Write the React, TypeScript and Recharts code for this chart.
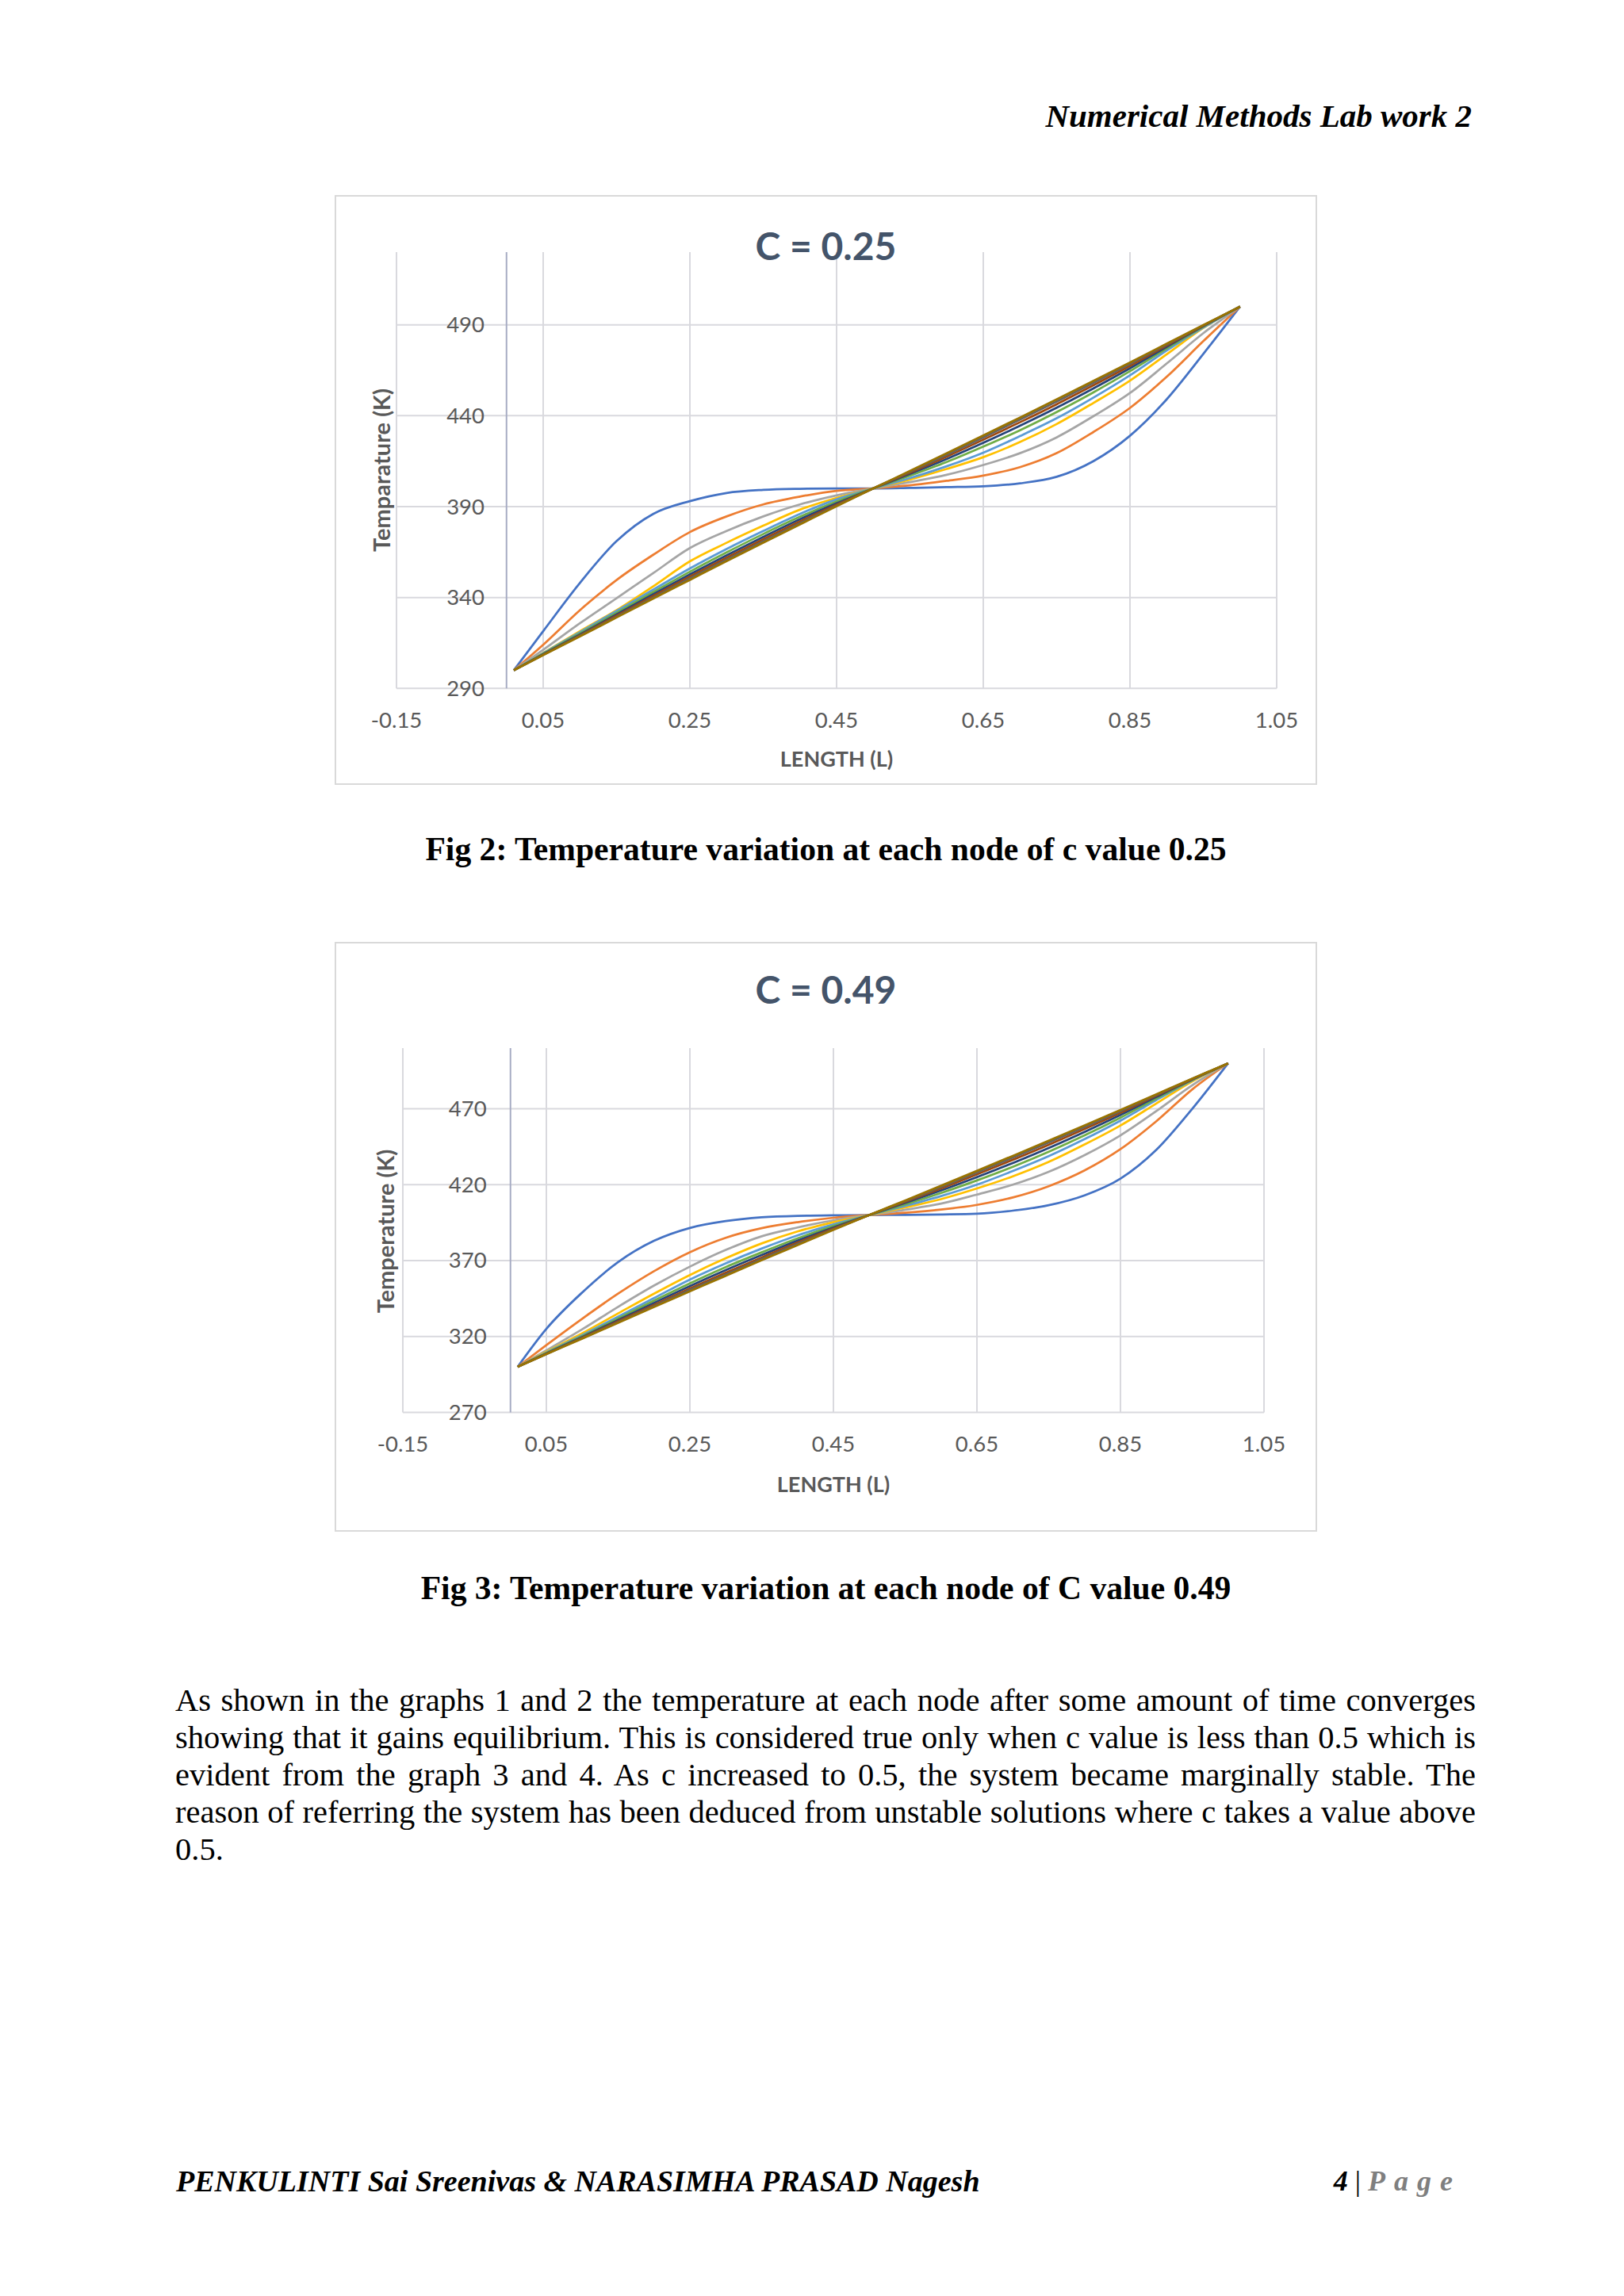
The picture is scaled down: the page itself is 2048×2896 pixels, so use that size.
import React from "react";
import { LineChart, Line, XAxis, YAxis, CartesianGrid, ReferenceLine } from "recharts";

// nodes along the bar (LENGTH) shared by both figures
const lengthNodes = [0.01, 0.05, 0.1, 0.15, 0.2, 0.25, 0.3, 0.35, 0.4, 0.45, 0.5, 0.55, 0.6, 0.65, 0.7, 0.75, 0.8, 0.85, 0.9, 0.95, 1.0];
const lengthTicks = [-0.15, 0.05, 0.25, 0.45, 0.65, 0.85, 1.05];
const tempTicks25 = [290, 340, 390, 440, 490];
const tempTicks49 = [270, 320, 370, 420, 470];

const seriesColors = ["#4472C4", "#ED7D31", "#A5A5A5", "#FFC000", "#5B9BD5", "#70AD47", "#264478", "#9E480E", "#636363", "#997300"];

// C = 0.25, one array per time step
const c25Step1 = [300, 321.5, 348, 371, 386, 393, 397.5, 399.2, 399.8, 400, 400, 400.3, 400.7, 401.2, 402.8, 406.4, 415, 429, 449, 474, 500];
const c25Step2 = [300, 314, 333, 349.6, 363.5, 376, 384.6, 391.2, 395.5, 398.7, 400, 401.7, 404.2, 407.1, 411.7, 419.4, 431, 444.3, 461.4, 481, 500];
const c25Step3 = [300, 311.2, 325.8, 339.6, 353.4, 367.2, 376.6, 384.6, 391.2, 396.2, 400, 403.5, 407.5, 412.9, 419.4, 428.1, 439.7, 452.5, 468.7, 485.4, 500];
const c25Step4 = [300, 309.5, 321.4, 333, 346.1, 359.9, 370.1, 379.5, 388.3, 394.8, 400, 404.9, 410.7, 417.2, 425.5, 435.4, 447, 459.3, 473.8, 488.3, 500];
const c25Step5 = [300, 309.4, 320.9, 332.6, 344.3, 356, 366.7, 376.6, 386, 394, 400, 405.7, 412.2, 419.7, 428.8, 438.6, 449.9, 462.2, 475.9, 488.5, 500];
const c25Step6 = [300, 309.1, 320.2, 331.6, 343, 354.2, 364.8, 374.9, 384.4, 392.8, 400, 407, 414.5, 423, 432, 442, 452.8, 464.5, 477, 489, 500];
const c25Step7 = [300, 308.8, 319.6, 330.7, 341.8, 352.7, 363.2, 373.3, 383, 391.8, 400, 408, 416.2, 425.1, 434.5, 444.4, 455, 466.1, 477.9, 489.3, 500];
const c25Step8 = [300, 308.6, 319.2, 330, 340.8, 351.5, 361.9, 372, 381.8, 391.1, 400, 408.7, 417.5, 426.8, 436.4, 446.3, 456.7, 467.4, 478.6, 489.5, 500];
const c25Step9 = [300, 308.4, 318.9, 329.4, 340, 350.5, 360.8, 370.9, 380.9, 390.6, 400, 409.2, 418.5, 428.1, 437.9, 447.8, 458, 468.5, 479.2, 489.7, 500];
const c25Step10 = [300, 308.3, 318.6, 329, 339.4, 349.7, 360, 370.2, 380.2, 390.2, 400, 409.6, 419.3, 429.1, 439, 449, 459.1, 469.3, 479.6, 489.9, 500];

// C = 0.49
const c49Step1 = [300, 325, 349, 369, 383, 391.5, 396, 398.5, 399.5, 399.8, 400, 400.1, 400.4, 400.9, 402.9, 406.5, 413, 424, 443, 470, 500];
const c49Step2 = [300, 314.3, 331.7, 348.2, 363, 375.5, 385, 391.3, 395.3, 398.2, 400, 401.5, 403.6, 406.7, 411.6, 419, 429.4, 443.4, 461.8, 482.8, 500];
const c49Step3 = [300, 310.8, 324.7, 339.5, 353.5, 366, 377, 386, 391.8, 396.5, 400, 403.5, 407.5, 413.5, 420, 428.5, 439.5, 452.5, 468.5, 485.5, 500];
const c49Step4 = [300, 309.9, 322.1, 335.2, 348.2, 360.5, 371.5, 381.3, 389.2, 395.3, 400, 405, 410.5, 417.5, 425.5, 435, 446.5, 459, 473.5, 488, 500];
const c49Step5 = [300, 309.4, 320.9, 333.1, 345.3, 357.5, 368.2, 377.9, 386.6, 393.8, 400, 406, 412.5, 420, 429, 438.8, 450, 462.2, 475.8, 488.7, 500];
const c49Step6 = [300, 309.1, 320.2, 331.8, 343.6, 355, 365.7, 375.4, 384.6, 392.8, 400, 407, 414.5, 422.8, 431.8, 441.7, 452.5, 464.2, 476.8, 489, 500];
const c49Step7 = [300, 308.8, 319.6, 330.8, 342.1, 353.2, 363.7, 373.6, 383.1, 391.8, 400, 408, 416.2, 425, 434.3, 444.2, 454.8, 466, 477.8, 489.3, 500];
const c49Step8 = [300, 308.6, 319.2, 330, 340.8, 351.6, 362, 372, 381.8, 391.1, 400, 408.7, 417.5, 426.8, 436.4, 446.3, 456.7, 467.4, 478.6, 489.5, 500];
const c49Step9 = [300, 308.4, 318.9, 329.4, 340, 350.6, 360.9, 371, 380.9, 390.6, 400, 409.2, 418.5, 428.1, 437.9, 447.8, 458, 468.5, 479.2, 489.7, 500];
const c49Step10 = [300, 308.3, 318.6, 329, 339.4, 349.7, 360, 370.2, 380.2, 390.2, 400, 409.6, 419.3, 429.1, 439, 449, 459.1, 469.3, 479.6, 489.9, 500];

const c25Series = [c25Step1, c25Step2, c25Step3, c25Step4, c25Step5, c25Step6, c25Step7, c25Step8, c25Step9, c25Step10];
const c49Series = [c49Step1, c49Step2, c49Step3, c49Step4, c49Step5, c49Step6, c49Step7, c49Step8, c49Step9, c49Step10];

const bodyLines = [
  "As shown in the graphs 1 and 2 the temperature at each node after some amount of time converges",
  "showing that it gains equilibrium. This is considered true only when c value is less than 0.5 which is",
  "evident from the graph 3 and 4. As c increased to 0.5, the system became marginally stable. The",
  "reason of referring the system has been deduced from unstable solutions where c takes a value above",
  "0.5.",
];

function buildRows(series: number[][]) {
  return lengthNodes.map((x, i) => {
    const row: Record<string, number> = { x };
    series.forEach((s, k) => {
      row[`Series${k + 1}`] = s[i];
    });
    return row;
  });
}

const FRAME_W = 1239;
const FRAME_H = 744;
const chartFont = "Lato, 'Noto Sans', sans-serif";
const serif = "'Liberation Serif', 'Times New Roman', serif";

type PanelProps = {
  top: number;
  title: string;
  yTitle: string;
  series: number[][];
  yDomain: [number, number];
  yTicks: number[];
  plot: { left: number; right: number; top: number; bottom: number };
  yLabelDx: number;
  titleY: number;
  yTitleX: number;
  yTitleY: number;
  xTitleY: number;
};

function ChartPanel(p: PanelProps) {
  const rows = buildRows(p.series);
  const xTitleX = (p.plot.left + p.plot.right) / 2;
  return (
    <div style={{ position: "absolute", left: 422, top: p.top, width: FRAME_W, height: FRAME_H, background: "#fff" }}>
      <LineChart
        width={FRAME_W}
        height={FRAME_H}
        data={rows}
        margin={{ top: p.plot.top, right: FRAME_W - p.plot.right, bottom: FRAME_H - p.plot.bottom - 1, left: p.plot.left - 1 }}
      >
        <CartesianGrid stroke="#d9d9de" strokeWidth={2} syncWithTicks />
        <XAxis
          dataKey="x"
          type="number"
          domain={[-0.15, 1.05]}
          ticks={lengthTicks}
          interval={0}
          height={1}
          axisLine={false}
          tickLine={false}
          tickSize={0}
          tickMargin={0}
          tick={(t: any) => (
            <text x={t.x} y={t.y + 50} textAnchor="middle" fill="#595959" fontSize={27.5} fontFamily={chartFont}>
              {t.payload.value}
            </text>
          )}
        />
        <YAxis
          type="number"
          domain={p.yDomain}
          ticks={p.yTicks}
          interval={0}
          width={1}
          axisLine={false}
          tickLine={false}
          tickSize={0}
          tickMargin={0}
          tick={(t: any) => (
            <text x={t.x + p.yLabelDx} y={t.y + 9.5} textAnchor="end" fill="#595959" fontSize={27.5} fontFamily={chartFont}>
              {t.payload.value}
            </text>
          )}
        />
        <ReferenceLine x={0} stroke="#a7acc4" strokeWidth={2} />
        {p.series.map((_, k) => (
          <Line
            key={k}
            type="monotone"
            dataKey={`Series${k + 1}`}
            stroke={seriesColors[k]}
            strokeWidth={2.75}
            dot={false}
            isAnimationActive={false}
          />
        ))}
      </LineChart>
      <div style={{ position: "absolute", inset: 0, border: "2px solid #d9d9d9", pointerEvents: "none" }} />
      <div
        style={{
          position: "absolute", left: FRAME_W / 2, top: p.titleY, transform: "translate(-50%, -50%)",
          fontFamily: chartFont, fontWeight: 700, fontSize: 48, lineHeight: 1, color: "#44546A", whiteSpace: "nowrap",
        }}
      >
        {p.title}
      </div>
      <div
        style={{
          position: "absolute", left: p.yTitleX, top: p.yTitleY, transform: "translate(-50%, -50%) rotate(-90deg)",
          fontFamily: chartFont, fontWeight: 700, fontSize: 29, lineHeight: 1, color: "#595959", whiteSpace: "nowrap",
        }}
      >
        {p.yTitle}
      </div>
      <div
        style={{
          position: "absolute", left: xTitleX, top: p.xTitleY, transform: "translate(-50%, -50%)",
          fontFamily: chartFont, fontWeight: 700, fontSize: 27, lineHeight: 1, color: "#595959", whiteSpace: "nowrap",
        }}
      >
        LENGTH (L)
      </div>
    </div>
  );
}

export default function App() {
  return (
    <div style={{ position: "absolute", left: 0, top: 0, width: 2048, height: 2896, background: "#fff", fontFamily: serif, color: "#000" }}>
      <div style={{ position: "absolute", right: 192, top: 125.7, font: `italic bold 41px ${serif}`, lineHeight: "41px", whiteSpace: "nowrap" }}>
        Numerical Methods Lab work 2
      </div>

      <ChartPanel
        top={246}
        title="C = 0.25"
        yTitle="Temparature (K)"
        series={c25Series}
        yDomain={[290, 530]}
        yTicks={tempTicks25}
        plot={{ left: 78, right: 1188, top: 72, bottom: 622.3 }}
        yLabelDx={111}
        titleY={64}
        yTitleX={58}
        yTitleY={347}
        xTitleY={710}
      />
      <div style={{ position: "absolute", left: 1041.5, top: 1050.7, transform: "translateX(-50%)", font: `bold 41.6px ${serif}`, lineHeight: "41px", whiteSpace: "nowrap" }}>
        Fig 2: Temperature variation at each node of c value 0.25
      </div>

      <ChartPanel
        top={1188}
        title="C = 0.49"
        yTitle="Temperature (K)"
        series={c49Series}
        yDomain={[270, 510]}
        yTicks={tempTicks49}
        plot={{ left: 86, right: 1172, top: 134, bottom: 593.4 }}
        yLabelDx={105.6}
        titleY={60}
        yTitleX={63}
        yTitleY={365}
        xTitleY={683}
      />
      <div style={{ position: "absolute", left: 1041.5, top: 1982.7, transform: "translateX(-50%)", font: `bold 41.6px ${serif}`, lineHeight: "41px", whiteSpace: "nowrap" }}>
        Fig 3: Temperature variation at each node of C value 0.49
      </div>

      <div style={{ position: "absolute", left: 221, top: 2120.6, width: 1640, font: `40.5px ${serif}`, lineHeight: "47.2px" }}>
        {bodyLines.map((line, i) => (
          <div
            key={i}
            style={{
              textAlign: i < bodyLines.length - 1 ? "justify" : "left",
              textAlignLast: i < bodyLines.length - 1 ? "justify" : "left",
              height: 47.2,
            }}
          >
            {line}
          </div>
        ))}
      </div>

      <div style={{ position: "absolute", left: 222, top: 2731.5, font: `italic bold 38px ${serif}`, lineHeight: "38px", whiteSpace: "nowrap" }}>
        PENKULINTI Sai Sreenivas &amp; NARASIMHA PRASAD Nagesh
      </div>
      <div style={{ position: "absolute", right: 205, top: 2732.9, font: `italic bold 36px ${serif}`, lineHeight: "36px", whiteSpace: "nowrap" }}>
        4 <span style={{ fontWeight: "normal", fontStyle: "normal" }}>|</span>{" "}
        <span style={{ color: "#7F7F7F", letterSpacing: 11 }}>Page</span>
      </div>
    </div>
  );
}
